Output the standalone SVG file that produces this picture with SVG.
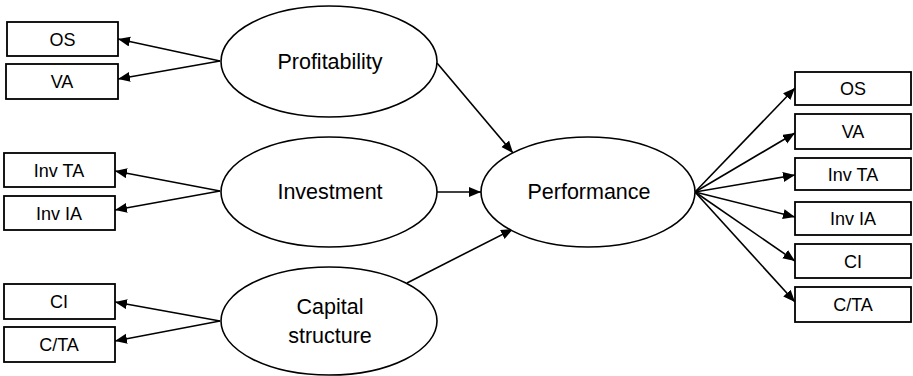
<svg xmlns="http://www.w3.org/2000/svg" width="913" height="376" viewBox="0 0 913 376">
<defs>
<style>
.box{fill:#fff;stroke:#000;stroke-width:1.8}
.ell{fill:#fff;stroke:#000;stroke-width:1.6}
.bt{font-family:"Liberation Sans",Arial,sans-serif;font-size:18px;fill:#000;text-anchor:middle}
.et{font-family:"Liberation Sans",Arial,sans-serif;font-size:21.5px;fill:#000;text-anchor:middle}
.ln{fill:none;stroke:#000;stroke-width:1.6;marker-end:url(#ah)}
</style>
<marker id="ah" markerUnits="userSpaceOnUse" markerWidth="13" markerHeight="11" refX="12" refY="5" orient="auto">
<path d="M0,0 L12,5 L0,10 z" fill="#000"/>
</marker>
</defs>
<rect width="913" height="376" fill="#fff"/>
<g id="connectors">
<line class="ln" x1="220" y1="61" x2="118" y2="39"/>
<line class="ln" x1="220" y1="61" x2="118" y2="79"/>
<line class="ln" x1="220" y1="191" x2="115" y2="171"/>
<line class="ln" x1="220" y1="191" x2="115" y2="210"/>
<line class="ln" x1="220" y1="321" x2="115" y2="302"/>
<line class="ln" x1="220" y1="321" x2="115" y2="341"/>
<line class="ln" x1="437" y1="63" x2="513" y2="153"/>
<line class="ln" x1="437" y1="192" x2="481" y2="192"/>
<line class="ln" x1="407" y1="283" x2="513" y2="229"/>
<line class="ln" x1="695" y1="192" x2="795" y2="88"/>
<line class="ln" x1="695" y1="192" x2="795" y2="133"/>
<line class="ln" x1="695" y1="192" x2="795" y2="175"/>
<line class="ln" x1="695" y1="192" x2="795" y2="217"/>
<line class="ln" x1="695" y1="192" x2="795" y2="261"/>
<line class="ln" x1="695" y1="192" x2="795" y2="302"/>
</g>
<g id="profitability"><ellipse class="ell" cx="329" cy="61.5" rx="108" ry="55.5"/><text class="et" x="330" y="69">Profitability</text></g>
<g id="investment"><ellipse class="ell" cx="329" cy="192" rx="108" ry="55"/><text class="et" x="330" y="199">Investment</text></g>
<g id="capital-structure"><ellipse class="ell" cx="329" cy="321" rx="108" ry="54"/><text class="et" x="330" y="314">Capital</text><text class="et" x="330" y="343">structure</text></g>
<g id="performance"><ellipse class="ell" cx="588" cy="192" rx="107" ry="55"/><text class="et" x="589" y="199">Performance</text></g>
<g id="l-os"><rect class="box" x="7" y="22" width="111" height="34"/><text class="bt" x="62.5" y="45.5">OS</text></g>
<g id="l-va"><rect class="box" x="6" y="64" width="112" height="35"/><text class="bt" x="62" y="88">VA</text></g>
<g id="l-invta"><rect class="box" x="4" y="153" width="111" height="34"/><text class="bt" x="59" y="176.5">Inv TA</text></g>
<g id="l-invia"><rect class="box" x="4" y="196" width="111" height="34"/><text class="bt" x="59" y="219.5">Inv IA</text></g>
<g id="l-ci"><rect class="box" x="4" y="284" width="111" height="35"/><text class="bt" x="59" y="308">CI</text></g>
<g id="l-cta"><rect class="box" x="4" y="327" width="111" height="35"/><text class="bt" x="59" y="351">C/TA</text></g>
<g id="r-os"><rect class="box" x="795" y="72" width="116" height="33"/><text class="bt" x="853" y="95">OS</text></g>
<g id="r-va"><rect class="box" x="795" y="114" width="116" height="35"/><text class="bt" x="853" y="138">VA</text></g>
<g id="r-invta"><rect class="box" x="795" y="158" width="116" height="32"/><text class="bt" x="853" y="180.5">Inv TA</text></g>
<g id="r-invia"><rect class="box" x="795" y="202" width="116" height="33"/><text class="bt" x="853" y="225">Inv IA</text></g>
<g id="r-ci"><rect class="box" x="795" y="244" width="116" height="34"/><text class="bt" x="853" y="267.5">CI</text></g>
<g id="r-cta"><rect class="box" x="795" y="287" width="116" height="35"/><text class="bt" x="853" y="311">C/TA</text></g>
</svg>
